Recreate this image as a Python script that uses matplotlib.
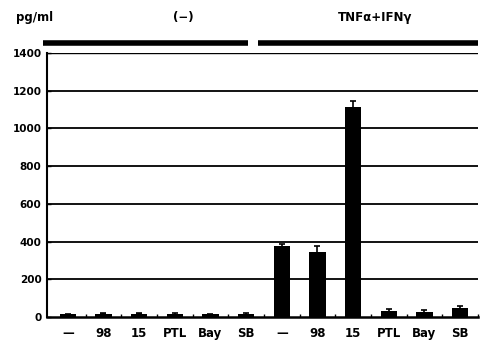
import matplotlib
matplotlib.use("Agg")
import matplotlib.pyplot as plt
import numpy as np

categories = ["—", "98", "15", "PTL", "Bay", "SB", "—", "98", "15", "PTL", "Bay", "SB"]
values = [14, 18, 18, 16, 15, 16, 378, 343, 1115, 32, 28, 48]
errors = [3, 4, 4, 3, 3, 3, 10, 36, 30, 10, 8, 12]
yticks = [0, 200, 400, 600, 800, 1000, 1200, 1400]
group_labels = ["(−)", "TNFα+IFNγ"]

plt.rcParams['font.family'] = ['DejaVu Sans']
fig = plt.figure(figsize=(4.81, 3.45), dpi=100)
ax = fig.add_axes([47/481, 1-317/345, (478-47)/481, (317-53)/345])

x = np.arange(len(categories))
ax.bar(x, values, width=0.46, color='black', zorder=3,
       yerr=errors, error_kw=dict(ecolor='black', elinewidth=1.2, capsize=2.5, capthick=1.2, zorder=4))

for yv in yticks[1:-1]:
    ax.axhline(yv, color='black', lw=1.3, zorder=1)
ax.axhline(1400, color='black', lw=1.0, zorder=1)

ax.set_xlim(-0.583, 11.39)
ax.set_ylim(0, 1400)
ax.set_yticks(yticks)
ax.set_yticklabels([str(v) for v in yticks], fontsize=7.5, fontweight='bold')
ax.set_xticks(x)
ax.set_xticklabels(categories, fontsize=8.5, fontweight='bold')
ax.set_xticks(x + 0.5, minor=True)
ax.tick_params(axis='x', which='major', length=0, pad=7)
ax.tick_params(axis='x', which='minor', direction='in', length=2, width=1)
ax.tick_params(axis='y', direction='in', length=3, width=1, pad=4)

for s in ['top', 'right']:
    ax.spines[s].set_visible(False)
ax.spines['left'].set_linewidth(1.5)
ax.spines['bottom'].set_linewidth(1.8)

# group bars above plot
fig.add_artist(plt.Line2D([43/481, 248/481], [1-43/345]*2, color='black', lw=4, solid_capstyle='butt'))
fig.add_artist(plt.Line2D([258/481, 478/481], [1-43/345]*2, color='black', lw=4, solid_capstyle='butt'))

fig.text(35/481, 1-17/345, "pg/ml", fontsize=8.5, fontweight='bold', ha='center', va='center')
fig.text(183/481, 1-17/345, group_labels[0], fontsize=8.5, fontweight='bold', ha='center', va='center')
fig.text(375/481, 1-17/345, group_labels[1], fontsize=8.5, fontweight='bold', ha='center', va='center')

fig.savefig("out.png", dpi=100)
